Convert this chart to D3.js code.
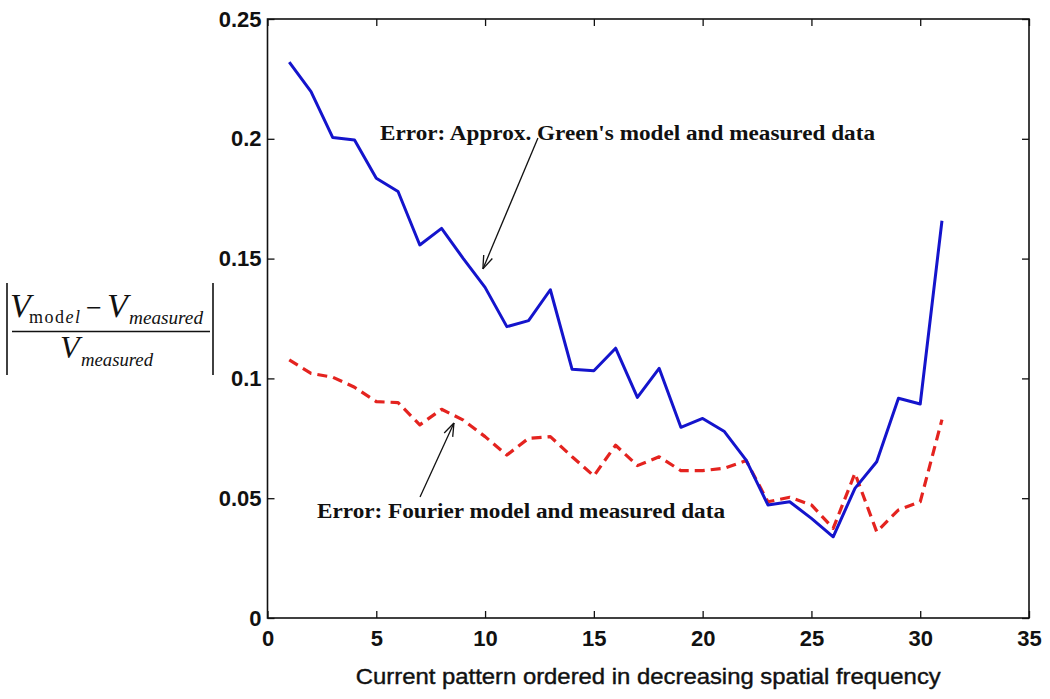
<!DOCTYPE html>
<html>
<head>
<meta charset="utf-8">
<script src="https://cdn.jsdelivr.net/npm/d3@7/dist/d3.min.js"></script>
<style>
  html, body { margin: 0; padding: 0; background: #fff; }
  svg { display: block; }
</style>
</head>
<body>
<svg id="chart" width="1050" height="699"></svg>
<script>
// ---- data ----
const patterns = d3.range(1, 32);
const greenError = [0.232, 0.2197, 0.2005, 0.1995, 0.1835, 0.178, 0.1557, 0.1626, 0.150, 0.138,
  0.1216, 0.1241, 0.137, 0.1038, 0.1032, 0.1126, 0.0921, 0.1042, 0.0796, 0.0833,
  0.0778, 0.0659, 0.0472, 0.0485, 0.0416, 0.0339, 0.0541, 0.0652, 0.0917, 0.0893, 0.1658];
const fourierError = [0.1077, 0.1021, 0.1005, 0.0963, 0.0903, 0.0899, 0.0806, 0.0871, 0.0826, 0.0757,
  0.068, 0.075, 0.0757, 0.0673, 0.0593, 0.0721, 0.0636, 0.0673, 0.0615, 0.0615,
  0.0625, 0.0657, 0.0485, 0.0504, 0.0472, 0.0374, 0.0604, 0.036, 0.0451, 0.0485, 0.0828];
const xTicks = [0, 5, 10, 15, 20, 25, 30, 35];
const yTicks = [0, 0.05, 0.1, 0.15, 0.2, 0.25];
const yTickLabels = ["0", "0.05", "0.1", "0.15", "0.2", "0.25"];
const xLabel = "Current pattern ordered in decreasing spatial frequency";
const annGreen = "Error: Approx. Green's model and measured data";
const annFourier = "Error: Fourier model and measured data";

// ---- layout ----
const L = 267.5, R = 1029, T = 19, B = 618;
const svg = d3.select("#chart");
const x = d3.scaleLinear().domain([0, 35]).range([L, R]);
const y = d3.scaleLinear().domain([0, 0.25]).range([B, T]);

// frame
svg.append("rect").attr("x", L).attr("y", T).attr("width", R - L).attr("height", B - T)
  .attr("fill", "none").attr("stroke", "#111").attr("stroke-width", 1.6);

const tickFont = "'Liberation Sans', Arial, sans-serif";
function styleAxis(g, showLabels) {
  g.select(".domain").remove();
  g.selectAll(".tick line").attr("stroke", "#111").attr("stroke-width", 1.3);
  g.selectAll(".tick text").attr("font-family", tickFont).attr("font-weight", "bold")
    .attr("font-size", 22).attr("fill", "#111");
  if (!showLabels) g.selectAll(".tick text").remove();
}
svg.append("g").attr("transform", `translate(0,${B})`)
  .call(d3.axisBottom(x).tickValues(xTicks).tickSize(-7).tickPadding(12).tickFormat(d3.format("d")))
  .call(g => styleAxis(g, true));
svg.append("g").attr("transform", `translate(0,${T})`)
  .call(d3.axisTop(x).tickValues(xTicks).tickSize(-7))
  .call(g => styleAxis(g, false));
svg.append("g").attr("transform", `translate(${L},0)`)
  .call(d3.axisLeft(y).tickValues(yTicks).tickSize(-7).tickPadding(6)
    .tickFormat((d, i) => yTickLabels[i]))
  .call(g => styleAxis(g, true));
svg.append("g").attr("transform", `translate(${R},0)`)
  .call(d3.axisRight(y).tickValues(yTicks).tickSize(-7))
  .call(g => styleAxis(g, false));

// lines
const line = d3.line().x((d, i) => x(patterns[i])).y(d => y(d));
svg.append("path").datum(fourierError).attr("d", line)
  .attr("fill", "none").attr("stroke", "#e4231f").attr("stroke-width", 3.2)
  .attr("stroke-dasharray", "10,6").attr("stroke-linejoin", "round");
svg.append("path").datum(greenError).attr("d", line)
  .attr("fill", "none").attr("stroke", "#1414cc").attr("stroke-width", 3)
  .attr("stroke-linejoin", "round");

// x label
svg.append("text").attr("x", (L + R) / 2).attr("y", 684).attr("text-anchor", "middle")
  .attr("font-family", tickFont).attr("font-size", 22).attr("fill", "#111")
  .attr("stroke", "#111").attr("stroke-width", 0.4)
  .attr("textLength", 585).attr("lengthAdjust", "spacingAndGlyphs").text(xLabel);

// annotations
const serif = "'Liberation Serif', 'Times New Roman', serif";
svg.append("text").attr("x", 380).attr("y", 140)
  .attr("font-family", serif).attr("font-weight", "bold").attr("font-size", 20)
  .attr("fill", "#111").attr("textLength", 495).attr("lengthAdjust", "spacingAndGlyphs").text(annGreen);
svg.append("text").attr("x", 317).attr("y", 517.5)
  .attr("font-family", serif).attr("font-weight", "bold").attr("font-size", 20)
  .attr("fill", "#111").attr("textLength", 408).attr("lengthAdjust", "spacingAndGlyphs").text(annFourier);

function arrow(x1, y1, x2, y2) {
  const a = Math.atan2(y2 - y1, x2 - x1), h = 14, w = 0.34;
  svg.append("line").attr("x1", x1).attr("y1", y1).attr("x2", x2).attr("y2", y2)
    .attr("stroke", "#111").attr("stroke-width", 1.3);
  [a + Math.PI - w, a + Math.PI + w].forEach(b => {
    svg.append("line").attr("x1", x2).attr("y1", y2)
      .attr("x2", x2 + h * Math.cos(b)).attr("y2", y2 + h * Math.sin(b))
      .attr("stroke", "#111").attr("stroke-width", 1.3);
  });
}
arrow(x(12.43), y(0.2003), x(9.9), y(0.1457));
arrow(x(7.01), y(0.0505), x(8.57), y(0.0814));

// y label formula
const fg = svg.append("g").attr("fill", "#111").attr("font-family", serif);
fg.append("line").attr("x1", 7).attr("x2", 7).attr("y1", 283).attr("y2", 375).attr("stroke", "#111").attr("stroke-width", 1.6);
fg.append("line").attr("x1", 213).attr("x2", 213).attr("y1", 283).attr("y2", 375).attr("stroke", "#111").attr("stroke-width", 1.6);
fg.append("line").attr("x1", 12).attr("x2", 210).attr("y1", 331.5).attr("y2", 331.5).attr("stroke", "#111").attr("stroke-width", 1.6);
fg.append("text").attr("x", 10).attr("y", 317).attr("font-size", 34).attr("font-style", "italic").text("V");
const sub1 = fg.append("text").attr("x", 29).attr("y", 323).attr("font-size", 18)
  .attr("textLength", 51).attr("lengthAdjust", "spacing");
sub1.append("tspan").text("mod");
sub1.append("tspan").attr("font-style", "italic").text("el");
fg.append("text").attr("x", 86).attr("y", 317).attr("font-size", 28).text("\u2212");
fg.append("text").attr("x", 107).attr("y", 317).attr("font-size", 34).attr("font-style", "italic").text("V");
fg.append("text").attr("x", 129).attr("y", 324).attr("font-size", 19).attr("font-style", "italic")
  .attr("textLength", 74).attr("lengthAdjust", "spacingAndGlyphs").text("measured");
fg.append("text").attr("x", 60).attr("y", 358).attr("font-size", 32).attr("font-style", "italic").text("V");
fg.append("text").attr("x", 81).attr("y", 366).attr("font-size", 19).attr("font-style", "italic")
  .attr("textLength", 72).attr("lengthAdjust", "spacingAndGlyphs").text("measured");
</script>
</body>
</html>
